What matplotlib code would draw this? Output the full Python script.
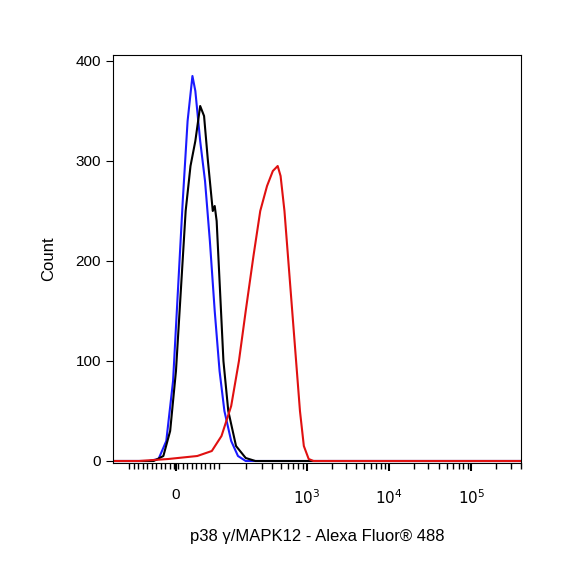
import matplotlib
matplotlib.use("Agg")
import matplotlib.pyplot as plt
import numpy as np

plt.rcParams['font.family'] = ['Liberation Sans', 'DejaVu Sans']

# x in display-channel units (biexponential axis rendered linearly)
blue_x = [100,150,160,168,175,180,185,190,195,198,203,208,213,218,223,228,235,242,250,540]
blue_y = [0,0,2,20,80,170,260,340,385,370,320,280,220,150,90,50,20,5,0,0]
black_x = [100,155,165,172,178,183,188,193,198,203,207,211,214,216,218,220,223,227,232,240,250,260,540]
black_y = [0,0,5,30,90,170,250,295,320,355,345,300,270,250,255,240,180,100,50,15,3,0,0]
red_x = [100,140,170,200,215,225,235,243,250,258,265,272,278,283,286,290,294,298,302,306,310,315,320,540]
red_y = [0,0,2,5,10,25,55,100,150,205,250,275,290,295,285,250,200,150,100,50,15,2,0,0]

major_pos = [178, 313, 398, 483]
major_lab = ["0", "$10^3$", "$10^4$", "$10^5$"]

fig = plt.figure(figsize=(5.71, 5.71), dpi=100)
ax = fig.add_axes([113/571, 108/571, 408/571, 408/571])
ax.plot(blue_x, blue_y, color="#1a1aff", lw=1.5)
ax.plot(black_x, black_y, color="black", lw=1.5)
ax.plot(red_x, red_y, color="#e01010", lw=1.5)
ax.set_xlim(113, 521)
ax.set_ylim(-2, 406)
ax.set_yticks([0, 100, 200, 300, 400])
ax.set_xticks(major_pos)
ax.set_xticklabels(major_lab)
dec = {2: 224, 3: 313, 4: 398, 5: 483}
minors = list(np.arange(130, 224, 4.6))
for d in (2, 3, 4):
    for m in range(2, 10):
        minors.append(dec[d] + np.log10(m) * (dec[d+1] - dec[d]))
for m in range(2, 5):
    minors.append(483 + np.log10(m) * 85)
ax.set_xticks(minors, minor=True)
ax.tick_params(axis="x", which="major", length=6, width=1.5, labelsize=11, pad=12)
ax.tick_params(axis="x", which="minor", length=4, width=1)
ax.tick_params(axis="y", length=5, labelsize=11)
ax.set_ylabel("Count", fontsize=12, labelpad=14)
ax.set_xlabel("p38 γ/MAPK12 - Alexa Fluor® 488", fontsize=12, labelpad=16)
fig.savefig("out.png", dpi=100)
